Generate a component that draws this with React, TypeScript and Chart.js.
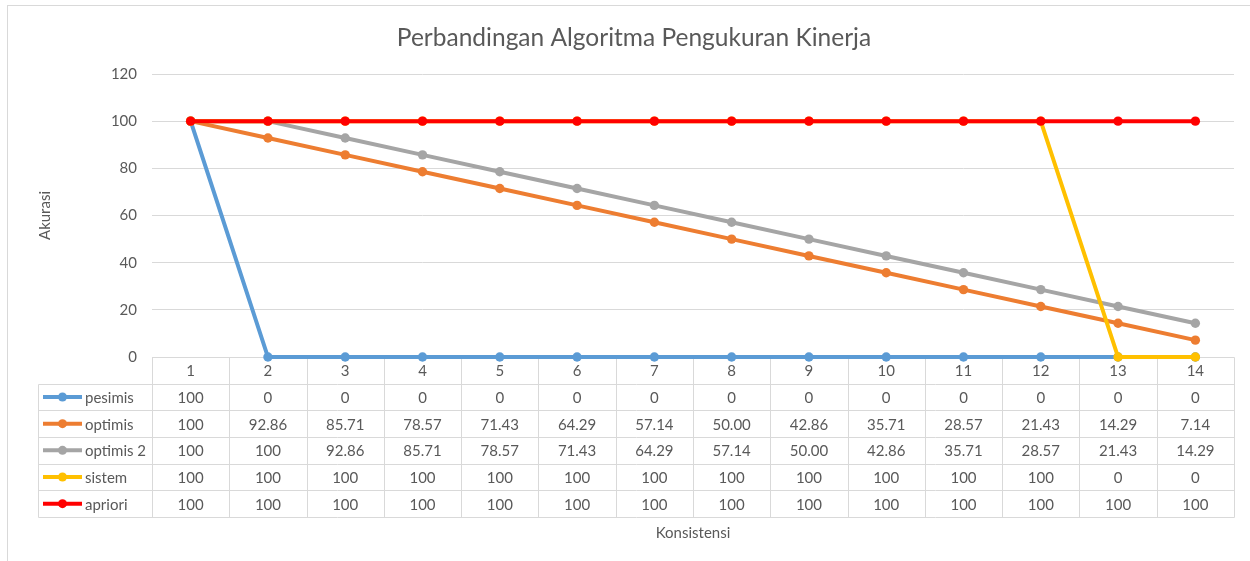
import React, { useEffect, useRef } from 'react';
import { Chart, registerables } from 'chart.js';

Chart.register(...registerables);

const FONT = 'Lato, "Noto Sans", sans-serif';
const TEXT = '#595959';
const GRID = '#D9D9D9';

const chartTitle = 'Perbandingan Algoritma Pengukuran Kinerja';
const xTitle = 'Konsistensi';
const yTitle = 'Akurasi';

const categories = ['1', '2', '3', '4', '5', '6', '7', '8', '9', '10', '11', '12', '13', '14'];

const seriesNames = ['pesimis', 'optimis', 'optimis 2', 'sistem', 'apriori'];
const seriesColors = ['#5B9BD5', '#ED7D31', '#A5A5A5', '#FFC000', '#FF0000'];

const pesimis = [100, 0, 0, 0, 0, 0, 0, 0, 0, 0, 0, 0, 0, 0];
const optimis = [100, 92.86, 85.71, 78.57, 71.43, 64.29, 57.14, 50.0, 42.86, 35.71, 28.57, 21.43, 14.29, 7.14];
const optimis2 = [100, 100, 92.86, 85.71, 78.57, 71.43, 64.29, 57.14, 50.0, 42.86, 35.71, 28.57, 21.43, 14.29];
const sistem = [100, 100, 100, 100, 100, 100, 100, 100, 100, 100, 100, 100, 0, 0];
const apriori = [100, 100, 100, 100, 100, 100, 100, 100, 100, 100, 100, 100, 100, 100];

const seriesValues = [pesimis, optimis, optimis2, sistem, apriori];

const fmt = (v: number) => (v === 100 || v === 0 ? String(v) : v.toFixed(2));

const ROW_H = 26.67;
const LEGEND_LEFT = 38;

const tablePlugin = {
  id: 'dataTable',
  beforeDatasetsDraw(chart: any) {
    const { ctx, chartArea } = chart;
    const left = chartArea.left;
    const right = chartArea.right;
    const top = chartArea.bottom;
    const n = categories.length;
    const colW = (right - left) / n;
    const crisp = (v: number) => Math.round(v) + 0.5;
    ctx.save();
    ctx.strokeStyle = GRID;
    ctx.lineWidth = 1;
    ctx.beginPath();
    for (let r = 0; r <= 6; r++) {
      const y = crisp(top + r * ROW_H);
      const x0 = r === 0 ? left : LEGEND_LEFT;
      ctx.moveTo(crisp(x0), y);
      ctx.lineTo(crisp(right), y);
    }
    for (let c = 0; c <= n; c++) {
      const x = crisp(left + c * colW);
      ctx.moveTo(x, crisp(top));
      ctx.lineTo(x, crisp(top + 6 * ROW_H));
    }
    ctx.moveTo(crisp(LEGEND_LEFT), crisp(top + ROW_H));
    ctx.lineTo(crisp(LEGEND_LEFT), crisp(top + 6 * ROW_H));
    ctx.stroke();

    ctx.fillStyle = TEXT;
    ctx.font = `15px ${FONT}`;
    ctx.textAlign = 'center';
    ctx.textBaseline = 'middle';
    for (let c = 0; c < n; c++) {
      const cx = left + (c + 0.5) * colW;
      ctx.fillText(categories[c], cx, top + ROW_H / 2 + 1);
      for (let s = 0; s < seriesValues.length; s++) {
        ctx.fillText(fmt(seriesValues[s][c]), cx, top + (s + 1.5) * ROW_H + 1);
      }
    }
    // legend keys
    for (let s = 0; s < seriesNames.length; s++) {
      const cy = top + (s + 1.5) * ROW_H;
      ctx.strokeStyle = seriesColors[s];
      ctx.lineWidth = 4;
      ctx.beginPath();
      ctx.moveTo(43, cy);
      ctx.lineTo(82, cy);
      ctx.stroke();
      ctx.fillStyle = seriesColors[s];
      ctx.beginPath();
      ctx.arc(62.5, cy, 4.5, 0, Math.PI * 2);
      ctx.fill();
      ctx.fillStyle = TEXT;
      ctx.textAlign = 'left';
      ctx.fillText(seriesNames[s], 85, cy + 1);
    }
    ctx.restore();
  },
  afterDraw(chart: any) {
    const { ctx, chartArea } = chart;
    ctx.save();
    ctx.fillStyle = TEXT;
    ctx.font = `15px ${FONT}`;
    ctx.textAlign = 'center';
    ctx.textBaseline = 'middle';
    ctx.fillText(xTitle, (chartArea.left + chartArea.right) / 2, 533);
    ctx.translate(45, (chartArea.top + chartArea.bottom) / 2);
    ctx.rotate(-Math.PI / 2);
    ctx.fillText(yTitle, 0, 0);
    ctx.restore();
    ctx.save();
    ctx.strokeStyle = GRID;
    ctx.lineWidth = 1;
    ctx.strokeRect(7.5, 5.5, 1260, 600);
    ctx.restore();
  },
};

export default function App() {
  const ref = useRef<HTMLCanvasElement | null>(null);
  useEffect(() => {
    document.body.style.margin = '0';
    if (!ref.current) return;
    const chart = new Chart(ref.current, {
      type: 'line',
      data: {
        labels: categories,
        datasets: seriesNames.map((name, i) => ({
          label: name,
          data: seriesValues[i],
          borderColor: seriesColors[i],
          backgroundColor: seriesColors[i],
          pointBackgroundColor: seriesColors[i],
          pointBorderColor: seriesColors[i],
          pointBorderWidth: 0,
          pointRadius: 4.7,
          borderWidth: 4,
          tension: 0,
          clip: false as any,
          order: seriesNames.length - i,
        })),
      },
      options: {
        responsive: false,
        animation: false,
        devicePixelRatio: 1,
        layout: { padding: { left: 34, right: 16, top: 0, bottom: 0 } },
        plugins: {
          legend: { display: false },
          tooltip: { enabled: false },
          title: {
            display: true,
            text: chartTitle,
            color: TEXT,
            font: { family: FONT, size: 24.5, weight: 'normal' },
            padding: { top: 23, bottom: 21.6 },
          },
        },
        scales: {
          x: {
            type: 'category',
            offset: true,
            grid: { display: false },
            border: { display: false },
            ticks: { display: false },
            afterFit: (scale: any) => {
              scale.height = 204;
            },
          },
          y: {
            min: 0,
            max: 120,
            ticks: {
              stepSize: 20,
              color: TEXT,
              font: { family: FONT, size: 15 },
              padding: 15,
            },
            grid: { color: GRID, drawTicks: false },
            border: { display: false },
            afterFit: (scale: any) => {
              scale.width = 118;
            },
          },
        },
      },
      plugins: [tablePlugin],
    });
    return () => chart.destroy();
  }, []);
  return (
    <div style={{ width: 1250, height: 561, background: '#fff' }}>
      <canvas ref={ref} width={1250} height={561} style={{ display: 'block' }} />
    </div>
  );
}
